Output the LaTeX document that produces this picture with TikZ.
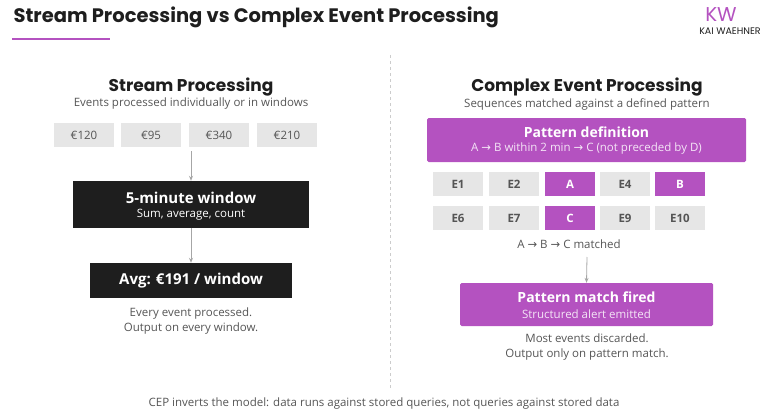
\documentclass[tikz,border=0pt]{standalone}
\usepackage{fontspec}
\setmainfont{Open Sans}
\newfontfamily\pop{Poppins}
\newfontfamily\dv{DejaVu Sans}
\usetikzlibrary{arrows.meta}
\definecolor{purp}{HTML}{B452C0}
\definecolor{gbox}{HTML}{E6E6E6}
\definecolor{gtxt}{HTML}{555555}
\definecolor{dark}{HTML}{1E1E1E}
\newcommand{\ar}{{\dv\char"2192}}
\tikzset{
 ev/.style={fill=gbox,minimum width=#1,minimum height=24pt,inner sep=0,font=\fontsize{11.5}{13}\selectfont,text=gtxt},
 cep/.style={fill=gbox,minimum width=50pt,minimum height=24pt,inner sep=0,font=\bfseries\fontsize{11.5}{13}\selectfont,text=gtxt},
 hit/.style={cep,fill=purp,text=white},
 arr/.style={draw=gray!70,-{Stealth[length=5pt,width=4pt]},line width=0.8pt},
 txt/.style={align=center,text=gtxt,font=\fontsize{11.5}{15}\selectfont},
 boxt/.style={align=center,text=white,font=\fontsize{11.5}{13}\selectfont},
}
\begin{document}
\begin{tikzpicture}[x=1pt,y=-1pt]
\useasboundingbox (0,0) rectangle (768,420);
\node[anchor=west,font=\pop\bfseries\fontsize{19.5}{22}\selectfont,text=dark] (title) at (10,17) {Stream Processing vs Complex Event Processing};
\fill[purp] (12,38) rectangle (110,40.5);
\node[text=purp,font=\pop\fontsize{20}{20}\selectfont] (kw) at (721,15) {KW};
\node[font=\pop\fontsize{9.5}{10}\selectfont,text=dark] (kwn) at (730,31) {KAI WAEHNER};
\draw[gray!40,dashed,line width=0.7pt] (390,55) -- (390,388);
% left
\node[font=\pop\bfseries\fontsize{17}{19}\selectfont,text=dark] (lt) at (191,87) {Stream Processing};
\node[txt] (ls) at (191,104) {Events processed individually or in windows};
\node[ev=60pt] (e1) at (84,135) {€120};
\node[ev=60pt] (e2) at (151,135) {€95};
\node[ev=60pt] (e3) at (219,135) {€340};
\node[ev=60pt] (e4) at (287,135) {€210};
\node[fill=dark,minimum width=236pt,minimum height=47pt] (win) at (191,204.5) {};
\node[boxt,font=\bfseries\fontsize{15}{17}\selectfont] (wint) at (191,198) {5-minute window};
\node[boxt] (wins) at (191,215) {Sum, average, count};
\node[fill=dark,minimum width=202pt,minimum height=35pt,text=white,font=\bfseries\fontsize{15}{17}\selectfont] (avg) at (191,280.5) {Avg: €191 / window};
\coordinate (a1) at (191,151);
\draw[arr] (a1) -- (win.north);
\draw[arr] (win.south) -- (avg.north);
\node[txt] (lc) at (191,321) {Every event processed.\\Output on every window.};
% right
\node[font=\pop\bfseries\fontsize{17}{19}\selectfont,text=dark] (rt) at (587,87) {Complex Event Processing};
\node[txt] (rs) at (587,104) {Sequences matched against a defined pattern};
\node[fill=purp,rounded corners=1.5pt,minimum width=319pt,minimum height=44pt] (pat) at (586.5,140) {};
\node[boxt,font=\bfseries\fontsize{14}{16}\selectfont] (patt) at (586.5,132) {Pattern definition};
\node[boxt,text=white!85!purp] (pats) at (586.5,149) {A \ar{} B within 2 min \ar{} C (not preceded by D)};
\node[cep] (c1) at (458,184) {E1};
\node[cep] (c2) at (514,184) {E2};
\node[hit] (c3) at (570,184) {A};
\node[cep] (c4) at (625,184) {E4};
\node[hit] (c5) at (680,184) {B};
\node[cep] (d1) at (458,218) {E6};
\node[cep] (d2) at (514,218) {E7};
\node[hit] (d3) at (570,218) {C};
\node[cep] (d4) at (625,218) {E9};
\node[cep] (d5) at (680,218) {E10};
\node[txt] (mt) at (569,244) {A \ar{} B \ar{} C matched};
\node[fill=purp,rounded corners=1.5pt,minimum width=253pt,minimum height=43pt] (fire) at (586.5,304.5) {};
\node[boxt,font=\bfseries\fontsize{14}{16}\selectfont] (firet) at (586.5,297) {Pattern match fired};
\node[boxt,text=white!85!purp] (fires) at (586.5,314) {Structured alert emitted};
\coordinate (a2) at (587,257);
\draw[arr] (a2) -- (fire.north);
\node[txt] (rc) at (587,347) {Most events discarded.\\Output only on pattern match.};
\node[txt] (foot) at (384,404) {CEP inverts the model: data runs against stored queries, not queries against stored data};
\end{tikzpicture}
\end{document}
